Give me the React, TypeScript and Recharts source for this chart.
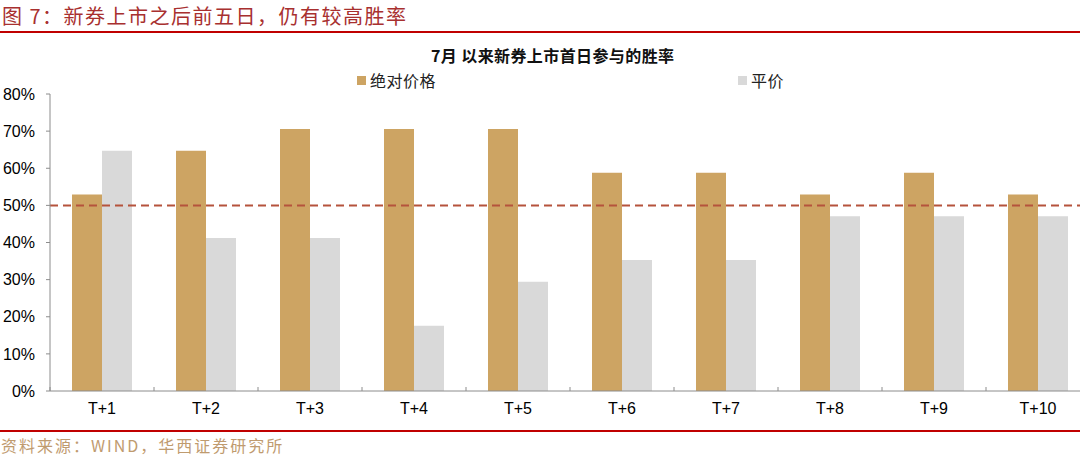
import { BarChart, Bar, XAxis, YAxis, ReferenceLine, Legend } from "recharts";

const categories = ["T+1", "T+2", "T+3", "T+4", "T+5", "T+6", "T+7", "T+8", "T+9", "T+10"];
const absoluteWin = [52.9, 64.7, 70.6, 70.6, 70.6, 58.8, 58.8, 52.9, 58.8, 52.9];
const parityWin = [64.7, 41.2, 41.2, 17.6, 29.4, 35.3, 35.3, 47.1, 47.1, 47.1];
const seriesNames = ["绝对价格", "平价"];
const yTicks = [0, 10, 20, 30, 40, 50, 60, 70, 80];
const threshold = 50;

const chartData = categories.map((name, i) => ({
  name,
  absolute: absoluteWin[i],
  parity: parityWin[i],
}));

const TAN = "#CDA463";
const GRAY = "#D9D9D9";
const AXIS = "#8C8C8C";
const CJK = "'Noto Sans CJK SC', 'Noto Sans', sans-serif";
const LATIN = "'Liberation Sans', Arial, sans-serif";

function CategoryTick(props: any) {
  const { x, y, payload, width, visibleTicksCount } = props;
  const band = width && visibleTicksCount ? width / visibleTicksCount : 104;
  const axisY = y - 12;
  return (
    <g>
      <line x1={x - band / 2} x2={x - band / 2} y1={axisY - 4} y2={axisY} stroke={AXIS} />
      <text x={x} y={y} dy="0.71em" textAnchor="middle" fill="#000" fontSize={16} fontFamily={LATIN}>
        {payload.value}
      </text>
    </g>
  );
}

function LegendContent(props: any) {
  const items = [...(props.payload || [])].sort(
    (a: any, b: any) => seriesNames.indexOf(a.value) - seriesNames.indexOf(b.value)
  );
  const lefts = [357, 738];
  return (
    <div style={{ position: "relative", width: 1080, height: 20 }}>
      {items.map((item: any, i: number) => (
        <div
          key={item.value}
          style={{
            position: "absolute",
            left: lefts[i],
            top: 0,
            display: "flex",
            alignItems: "center",
            fontFamily: CJK,
            fontSize: 16,
            letterSpacing: 0.5,
            lineHeight: "20px",
            color: "#222",
            whiteSpace: "nowrap",
          }}
        >
          <span style={{ width: 9, height: 9, background: item.color, marginRight: 4, display: "inline-block" }} />
          {item.value}
        </div>
      ))}
    </div>
  );
}

export default function App() {
  return (
    <div style={{ position: "absolute", left: 0, top: 0, width: 1080, height: 459, overflow: "hidden", background: "#fff" }}>
      <div
        style={{
          position: "absolute",
          left: 2,
          top: 1,
          fontFamily: CJK,
          fontSize: 20,
          letterSpacing: 1.5,
          color: "#A8302F",
          whiteSpace: "nowrap",
        }}
      >
        图 7：新券上市之后前五日，仍有较高胜率
      </div>
      <div style={{ position: "absolute", left: 0, top: 31, width: 1080, height: 2, background: "#C00000" }} />
      <div
        style={{
          position: "absolute",
          left: 431,
          top: 43,
          fontFamily: CJK,
          fontSize: 16,
          fontWeight: 700,
          letterSpacing: 0.4,
          color: "#111",
          whiteSpace: "nowrap",
        }}
      >
        7月 以来新券上市首日参与的胜率
      </div>
      <BarChart
        width={1100}
        height={459}
        data={chartData}
        margin={{ top: 94, right: 10, bottom: 38, left: 0 }}
        barCategoryGap={22}
        barGap={0}
        style={{ position: "absolute", left: 0, top: 0 }}
      >
        <Legend
          layout="vertical"
          align="center"
          verticalAlign="middle"
          content={<LegendContent />}
          wrapperStyle={{ top: 70, left: 0, width: 1080 }}
        />
        <XAxis
          dataKey="name"
          height={30}
          axisLine={{ stroke: AXIS }}
          tickLine={false}
          tickSize={0}
          tickMargin={12}
          interval={0}
          tick={<CategoryTick />}
        />
        <YAxis
          width={50}
          domain={[0, 80]}
          ticks={yTicks}
          tickFormatter={(v: number) => `${v}%`}
          axisLine={{ stroke: AXIS }}
          tickLine={{ stroke: AXIS }}
          tickSize={4}
          tickMargin={11}
          tick={{ fill: "#000", fontSize: 16, fontFamily: LATIN }}
        />
        <Bar dataKey="absolute" name={seriesNames[0]} fill={TAN} barSize={30} isAnimationActive={false} />
        <Bar dataKey="parity" name={seriesNames[1]} fill={GRAY} barSize={30} isAnimationActive={false} />
        <ReferenceLine y={threshold} stroke="#B5533C" strokeWidth={2} strokeDasharray="8 5" />
      </BarChart>
      <div style={{ position: "absolute", left: 0, top: 430, width: 1080, height: 2, background: "#C00000" }} />
      <div
        style={{
          position: "absolute",
          left: 1,
          top: 433,
          fontFamily: CJK,
          fontSize: 16,
          letterSpacing: 2,
          color: "#BF9B6F",
          whiteSpace: "nowrap",
        }}
      >
        资料来源：WIND，华西证券研究所
      </div>
    </div>
  );
}
